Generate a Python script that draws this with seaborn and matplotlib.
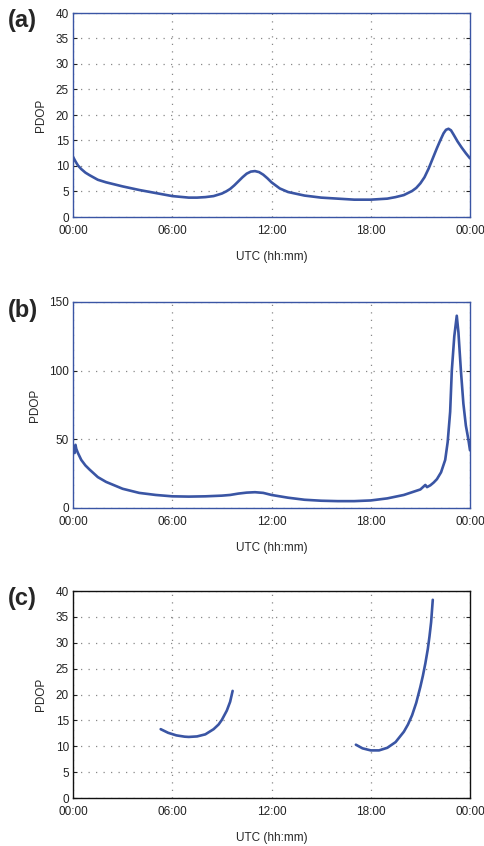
import numpy as np
import pandas as pd
import seaborn as sns
import matplotlib.pyplot as plt

# 读图得到的 PDOP 数据 (UTC 小时)
hours_a = [0, 0.15, 0.3, 0.5, 0.75, 1, 1.5, 2, 3, 4, 5, 6, 7, 7.5, 8, 8.5, 9, 9.25, 9.5,
           9.75, 10, 10.25, 10.5, 10.75, 11, 11.25, 11.5, 11.75, 12, 12.5, 13, 14, 15, 16,
           17, 18, 19, 19.5, 20, 20.5, 20.75, 21, 21.25, 21.5, 21.75, 22, 22.2, 22.4, 22.55,
           22.7, 22.85, 23, 23.25, 23.5, 23.75, 24]
pdop_a = [11.8, 10.9, 10.1, 9.4, 8.7, 8.2, 7.3, 6.8, 6.0, 5.3, 4.7, 4.1, 3.8, 3.8, 3.9, 4.1,
          4.6, 5.0, 5.5, 6.2, 7.0, 7.8, 8.5, 8.9, 9.0, 8.8, 8.3, 7.6, 6.8, 5.6, 4.9, 4.2, 3.8,
          3.6, 3.4, 3.4, 3.6, 3.9, 4.3, 5.1, 5.7, 6.6, 7.8, 9.5, 11.5, 13.5, 15.0, 16.4, 17.1,
          17.3, 17.0, 16.2, 14.8, 13.6, 12.5, 11.5]

hours_b = [0, 0.05, 0.1, 0.15, 0.2, 0.3, 0.5, 0.75, 1, 1.5, 2, 3, 4, 5, 6, 7, 8, 9, 9.5,
           10, 10.5, 11, 11.5, 12, 13, 14, 15, 16, 17, 18, 19, 20, 21, 21.3, 21.4, 21.6,
           21.8, 22, 22.25, 22.5, 22.65, 22.8, 22.9, 23.05, 23.2, 23.3, 23.45, 23.6, 23.75,
           23.9, 24]
pdop_b = [42, 45, 40, 46, 43, 40, 35, 31, 28, 22.5, 19, 14, 11, 9.5, 8.5, 8.3, 8.5, 9, 9.5,
          10.5, 11.2, 11.5, 11, 9.5, 7.5, 6, 5.3, 5.0, 5.0, 5.5, 7, 9.5, 13.5, 16.8, 15.2,
          16.5, 18.5, 21, 26, 35, 48, 70, 100, 125, 140, 128, 100, 76, 60, 50, 42]

hours_c1 = [5.3, 5.75, 6.25, 6.75, 7, 7.5, 8, 8.5, 8.8, 9, 9.3, 9.5, 9.65]
pdop_c1 = [13.3, 12.6, 12.1, 11.85, 11.8, 11.9, 12.3, 13.3, 14.2, 15.1, 16.9, 18.6, 20.7]
hours_c2 = [17.1, 17.5, 18, 18.5, 19, 19.5, 20, 20.25, 20.5, 20.75, 21, 21.15, 21.3,
            21.45, 21.55, 21.65, 21.75]
pdop_c2 = [10.3, 9.6, 9.2, 9.2, 9.7, 10.8, 12.8, 14.2, 16.0, 18.4, 21.5, 23.6, 26.0,
           28.8, 31.2, 34.0, 38.3]

xticks = [0, 6, 12, 18, 24]
xticklabels = ['00:00', '06:00', '12:00', '18:00', '00:00']
panel_labels = ['(a)', '(b)', '(c)']

sns.set_style('white')
plt.rcParams['font.family'] = ['Liberation Sans', 'DejaVu Sans']
line_color = '#3a55a4'

fig = plt.figure(figsize=(4.84, 8.46), dpi=100)
# 三个子图的位置 (像素换算)
W, H = 484, 846
boxes = [(73, 13, 470, 217), (73, 302, 470, 508), (73, 591, 470, 798)]
axes = [fig.add_axes([l / W, 1 - b / H, (r - l) / W, (b - t) / H]) for l, t, r, b in boxes]

segments = [
    [(hours_a, pdop_a)],
    [(hours_b, pdop_b)],
    [(hours_c1, pdop_c1), (hours_c2, pdop_c2)],
]
ylims = [(0, 40), (0, 150), (0, 40)]
yticks = [np.arange(0, 41, 5), [0, 50, 100, 150], np.arange(0, 41, 5)]
frame_colors = [line_color, line_color, '#111111']

for i, ax in enumerate(axes):
    for xs, ys in segments[i]:
        df = pd.DataFrame({'UTC': xs, 'PDOP': ys})
        sns.lineplot(data=df, x='UTC', y='PDOP', ax=ax, color=line_color, linewidth=1.9)
    ax.set_xlim(0, 24)
    ax.set_ylim(*ylims[i])
    ax.set_xticks(xticks)
    ax.set_xticklabels(xticklabels)
    ax.set_yticks(yticks[i])
    ax.grid(True, color='#888888', linestyle=(0, (1, 5)), linewidth=0.9)
    ax.tick_params(direction='in', length=3, labelsize=8.5, colors='#222222',
                   right=True, left=True, bottom=False, pad=3)
    ax.tick_params(axis='x', pad=6)
    for s in ax.spines.values():
        s.set_color(frame_colors[i])
        s.set_linewidth(1.0)
    ax.set_xlabel('UTC (hh:mm)', fontsize=8.5, labelpad=10)
    ax.set_ylabel('PDOP', fontsize=8.5, labelpad=6)
    fig.text(8 / W, 1 - (boxes[i][1] + 8) / H, panel_labels[i], fontsize=17,
             fontweight='bold', va='center', ha='left')

fig.savefig('out.png', dpi=100)
